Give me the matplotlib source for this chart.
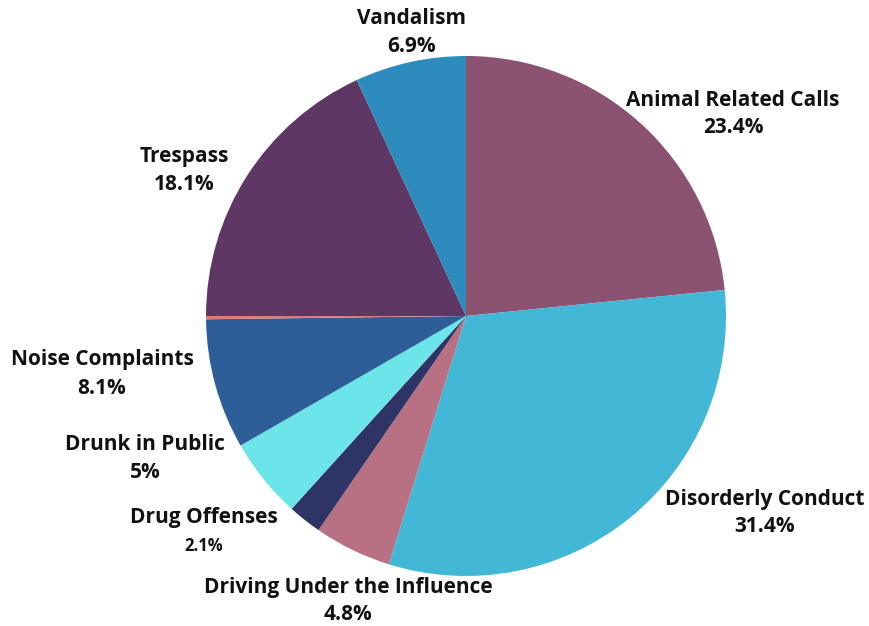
import matplotlib
matplotlib.use('Agg')
import matplotlib.pyplot as plt

# Datos del gráfico
categories = ['Animal Related Calls', 'Disorderly Conduct', 'Driving Under the Influence',
              'Drug Offenses', 'Drunk in Public', 'Noise Complaints', '',
              'Trespass', 'Vandalism']
values = [23.4, 31.4, 4.8, 2.1, 5.0, 8.1, 0.2, 18.1, 6.9]
pct_labels = ['23.4%', '31.4%', '4.8%', '2.1%', '5%', '8.1%', '', '18.1%', '6.9%']
colors = ['#8B5272', '#42B7D6', '#B87083', '#2E3466', '#6CE5E8',
          '#2E5E97', '#E07A7A', '#5E3764', '#2D8BBD']

# Posiciones de etiquetas (px, desde arriba)
label_pos = [(733, 114), (765, 513), (348, 601), (204, 532), (145, 458),
             (102, 374), None, (184, 171), (412, 32)]

W, H = 870, 626
fig = plt.figure(figsize=(W / 100, H / 100), dpi=100)
ax = fig.add_axes([0, 0, 1, 1])

ax.pie(values, colors=colors, startangle=90, counterclock=False,
       center=(466, H - 316), radius=260, frame=True,
       wedgeprops={'linewidth': 0})
ax.set_xlim(0, W)
ax.set_ylim(0, H)
ax.set_aspect('equal')
ax.axis('off')

font = 'Open Sans'
for name, pct, pos in zip(categories, pct_labels, label_pos):
    if pos is None:
        continue
    x, y = pos
    small = name == 'Drug Offenses'
    ax.text(x, H - y + 14, name, ha='center', va='center', fontsize=15,
            fontweight='bold', family=font, color='#111111')
    ax.text(x, H - y - 14, pct, ha='center', va='center',
            fontsize=12 if small else 15, fontweight='bold', family=font,
            color='#111111')

fig.savefig('out.png', dpi=100)
